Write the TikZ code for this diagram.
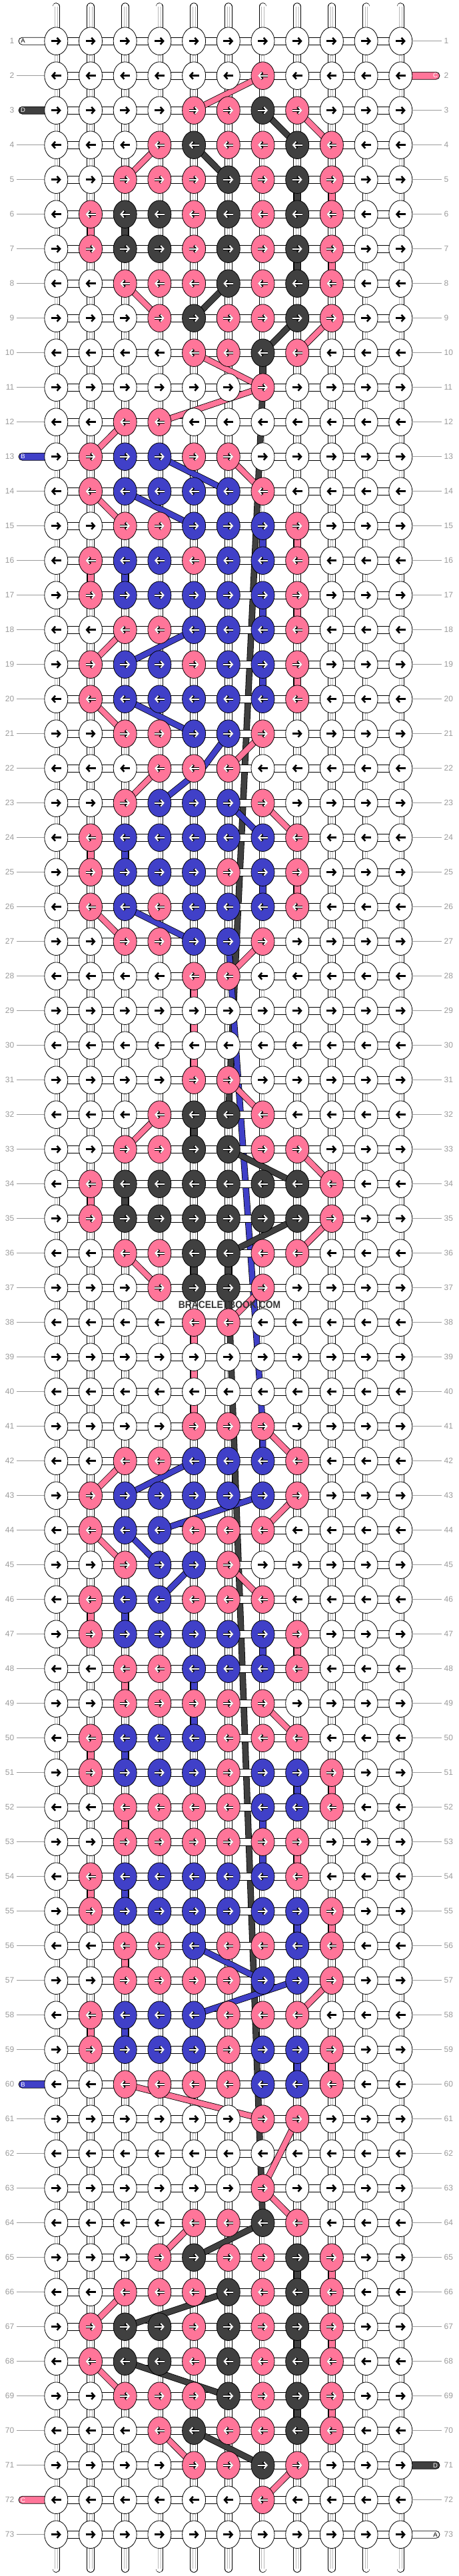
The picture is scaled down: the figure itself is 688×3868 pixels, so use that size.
\documentclass[tikz,border=0pt]{standalone}
\usepackage{fontspec}
\setmainfont{Liberation Sans}
\usetikzlibrary{arrows.meta,shapes.geometric}
\definecolor{cP}{RGB}{255,117,153}
\definecolor{cB}{RGB}{64,64,200}
\definecolor{cK}{RGB}{64,64,64}
\definecolor{lbl}{RGB}{155,155,155}
\definecolor{thrgray}{RGB}{185,185,185}
\pgfdeclarelayer{bgz}\pgfdeclarelayer{bga}\pgfdeclarelayer{bgb}\pgfdeclarelayer{bgc}\pgfdeclarelayer{bgd}
\pgfsetlayers{bgz,bga,bgb,bgc,bgd,main}
\newcommand\krow[2]{\foreach \c/\k in {#2}{\expandafter\xdef\csname kc-#1-\c\endcsname{c\k}}}
\begin{document}
\begin{tikzpicture}[x=1pt,y=-1pt,
  knotnode/.style={ellipse, draw=black, line width=0.8pt, minimum width=35pt, minimum height=41.6pt, inner sep=0pt},
  thr/.style={line width=0.8pt, draw=black, double=#1, double distance=8pt},
  vconn/.style={draw=black, line width=0.8pt},
  hconn/.style={draw=black, fill=white, line width=0.8pt},
  arw/.style={line width=2.6pt, black, -{Straight Barb[length=4.5pt,width=10pt]}},
  arwo/.style={line width=3.8pt, black, -{Straight Barb[length=4.5pt,width=10pt]}},
  arwi/.style={line width=1.9pt, white, -{Straight Barb[length=4.5pt,width=10pt]}},
  rowlbl/.style={text=lbl, font=\fontsize{12}{12}\selectfont, inner xsep=3.5pt, inner ysep=0pt},
  lblline/.style={draw=lbl, line width=0.7pt},
  edgethr/.style={draw=black, line width=0.8pt, rounded corners=5.5pt},
  edgeltr/.style={font=\fontsize{9.5}{10}\selectfont, inner sep=0pt},
]
\useasboundingbox (0,0) rectangle (688,3868);
\begin{pgfonlayer}{bgz}
\fill[white] (0,0) rectangle (688,3868);
\end{pgfonlayer}
% ---- knot colours ----
\krow{2}{7/P}
\krow{3}{5/P,6/P,7/K,8/P}
\krow{4}{4/P,5/K,6/P,7/P,8/K,9/P}
\krow{5}{3/P,4/P,5/P,6/K,7/P,8/K,9/P}
\krow{6}{2/P,3/K,4/K,5/P,6/K,7/P,8/K,9/P}
\krow{7}{2/P,3/K,4/K,5/P,6/K,7/P,8/K,9/P}
\krow{8}{3/P,4/P,5/P,6/K,7/P,8/K,9/P}
\krow{9}{4/P,5/K,6/P,7/P,8/K,9/P}
\krow{10}{5/P,6/P,7/K,8/P}
\krow{11}{7/P}
\krow{12}{3/P,4/P}
\krow{13}{2/P,3/B,4/B,5/P,6/P}
\krow{14}{2/P,3/B,4/B,5/B,6/B,7/P}
\krow{15}{3/P,4/P,5/B,6/B,7/B,8/P}
\krow{16}{2/P,3/B,4/B,5/P,6/B,7/B,8/P}
\krow{17}{2/P,3/B,4/B,5/B,6/B,7/B,8/P}
\krow{18}{3/P,4/P,5/B,6/B,7/B,8/P}
\krow{19}{2/P,3/B,4/B,5/P,6/B,7/B,8/P}
\krow{20}{2/P,3/B,4/B,5/B,6/B,7/B,8/P}
\krow{21}{3/P,4/P,5/B,6/B,7/P}
\krow{22}{4/P,5/P,6/P}
\krow{23}{3/P,4/B,5/B,6/B,7/P}
\krow{24}{2/P,3/B,4/B,5/B,6/B,7/B,8/P}
\krow{25}{2/P,3/B,4/B,5/B,6/P,7/B,8/P}
\krow{26}{2/P,3/B,4/P,5/B,6/B,7/B,8/P}
\krow{27}{3/P,4/P,5/B,6/B,7/P}
\krow{28}{5/P,6/P}
\krow{31}{5/P,6/P}
\krow{32}{4/P,5/K,6/K,7/P}
\krow{33}{3/P,4/P,5/K,6/K,7/P,8/P}
\krow{34}{2/P,3/K,4/K,5/K,6/K,7/K,8/K,9/P}
\krow{35}{2/P,3/K,4/K,5/K,6/K,7/K,8/K,9/P}
\krow{36}{3/P,4/P,5/K,6/K,7/P,8/P}
\krow{37}{4/P,5/K,6/K,7/P}
\krow{38}{5/P,6/P}
\krow{41}{5/P,6/P,7/P}
\krow{42}{3/P,4/P,5/B,6/B,7/B,8/P}
\krow{43}{2/P,3/B,4/B,5/B,6/B,7/B,8/P}
\krow{44}{2/P,3/B,4/B,5/P,6/P,7/P}
\krow{45}{3/P,4/B,5/B,6/P}
\krow{46}{2/P,3/B,4/B,5/P,6/P,7/P}
\krow{47}{2/P,3/B,4/B,5/B,6/B,7/B,8/P}
\krow{48}{3/P,4/P,5/B,6/B,7/B,8/P}
\krow{49}{3/P,4/P,5/P,6/P,7/P}
\krow{50}{2/P,3/B,4/B,5/B,6/P,7/P,8/P}
\krow{51}{2/P,3/B,4/B,5/B,6/P,7/B,8/B,9/P}
\krow{52}{3/P,4/P,5/P,6/P,7/B,8/B,9/P}
\krow{53}{3/P,4/P,5/P,6/P,7/P,8/P}
\krow{54}{2/P,3/B,4/B,5/B,6/B,7/B,8/P}
\krow{55}{2/P,3/B,4/B,5/B,6/B,7/B,8/B,9/P}
\krow{56}{3/P,4/P,5/B,6/P,7/P,8/B,9/P}
\krow{57}{3/P,4/P,5/P,6/P,7/B,8/B,9/P}
\krow{58}{2/P,3/B,4/B,5/B,6/P,7/P,8/P}
\krow{59}{2/P,3/B,4/B,5/B,6/P,7/B,8/B,9/P}
\krow{60}{3/P,4/P,5/P,6/P,7/B,8/B,9/P}
\krow{61}{7/P,8/P}
\krow{63}{7/P}
\krow{64}{5/P,6/P,7/K,8/P}
\krow{65}{4/P,5/K,6/P,7/P,8/K,9/P}
\krow{66}{3/P,4/P,5/P,6/K,7/P,8/K,9/P}
\krow{67}{2/P,3/K,4/K,5/P,6/K,7/P,8/K,9/P}
\krow{68}{2/P,3/K,4/K,5/P,6/K,7/P,8/K,9/P}
\krow{69}{3/P,4/P,5/P,6/K,7/P,8/K,9/P}
\krow{70}{4/P,5/K,6/P,7/P,8/K,9/P}
\krow{71}{5/P,6/P,7/K,8/P}
\krow{72}{7/P}
\foreach \r in {1,3,13,60,72}{\expandafter\gdef\csname hasL-\r\endcsname{}}
\foreach \r in {2,71,73}{\expandafter\gdef\csname hasR-\r\endcsname{}}
% ---- knots ----
\foreach \r in {1,...,73}{
  \pgfmathsetmacro\yy{61.7+(\r-1)*52}
  \ifodd\r\relax\def\ad{1}\else\def\ad{-1}\fi
  \foreach \c in {1,...,11}{
    \pgfmathsetmacro\xx{84.3+(\c-1)*51.7}
    \pgfmathsetmacro\xa{\xx-7.5*\ad}
    \pgfmathsetmacro\xb{\xx+7.5*\ad}
    \ifcsname kc-\r-\c\endcsname
      \edef\kcol{\csname kc-\r-\c\endcsname}
      \node[knotnode, fill=\kcol] (k-\r-\c) at (\xx,\yy) {};
      \draw[arwo] (\xa,\yy) -- (\xb,\yy);
      \draw[arwi] (\xa,\yy) -- (\xb,\yy);
    \else
      \node[knotnode, fill=white] (k-\r-\c) at (\xx,\yy) {};
      \draw[arw] (\xa,\yy) -- (\xb,\yy);
    \fi
  }
}
% ---- vertical threads (columns) ----
\begin{pgfonlayer}{bga}
\foreach \c in {1,...,11}{
  \pgfmathsetmacro\xx{84.3+(\c-1)*51.7}
  \coordinate (top-\c) at (\xx,10);
  \coordinate (bot-\c) at (\xx,3857);
  \draw[black, line width=11.6pt, line cap=round] (top-\c) -- (bot-\c);
  \draw[white, line width=10pt, line cap=round] (top-\c) -- (bot-\c);
  \draw[thrgray, line width=0.6pt] ([xshift=-1.8pt]top-\c) -- ([xshift=-1.8pt]bot-\c);
  \draw[thrgray, line width=0.6pt] ([xshift=1.8pt]top-\c) -- ([xshift=1.8pt]bot-\c);
}
\end{pgfonlayer}
% ---- coloured vertical segments and long threads ----
\begin{pgfonlayer}{bgb}
\foreach \r/\c/\k in {5/8/K,5/9/P,6/2/P,6/3/K,7/8/K,7/9/P,10/7/K,15/7/B,15/8/P,16/2/P,16/3/B,17/7/B,17/8/P,19/7/B,19/8/P,24/2/P,24/3/B,25/7/B,25/8/P,28/5/P,29/5/P,30/5/P,32/5/K,34/2/P,34/3/K,36/5/K,36/6/K,38/5/P,39/5/P,40/5/P,46/2/P,46/3/B,47/7/B,47/8/P,48/3/P,48/5/B,49/5/B,50/2/P,50/3/B,51/8/B,51/9/P,52/3/P,52/7/B,53/7/B,53/8/P,54/2/P,54/3/B,55/8/B,55/9/P,56/3/P,58/2/P,58/3/B,59/8/B,59/9/P,65/8/K,65/9/P,67/8/K,67/9/P,69/8/K,69/9/P}{
  \pgfmathtruncatemacro\rn{\r+1}
  \draw[vconn, fill=c\k] ([xshift=-5pt]k-\r-\c.center) rectangle ([xshift=5pt]k-\rn-\c.center);
}
\draw[thr=cK] (k-11-7.center) -- (k-32-6.center);
\draw[thr=cB] (k-27-6.center) -- (k-41-7.center) -- (k-42-7.center);
\draw[thr=cK] (k-37-6.center) -- (k-64-7.center);
\end{pgfonlayer}
% ---- horizontal connectors ----
\begin{pgfonlayer}{bgc}
\foreach \r in {1,...,73}{
  \draw[hconn] ([yshift=5.5pt]k-\r-1.center) rectangle ([yshift=-5.5pt]k-\r-11.center);
}
\end{pgfonlayer}
% ---- diagonal coloured threads ----
\begin{pgfonlayer}{bgd}
\foreach \a/\b/\k in {2-7/3-5/P,3-7/4-8/K,3-8/4-9/P,4-4/5-3/P,4-5/5-6/K,8-3/9-4/P,8-6/9-5/K,9-8/10-7/K,9-9/10-8/P,10-5/11-7/P,11-7/12-4/P,12-3/13-2/P,13-4/14-6/B,13-6/14-7/P,14-2/15-3/P,14-3/15-5/B,18-3/19-2/P,18-5/19-3/B,20-2/21-3/P,20-3/21-5/B,21-7/22-6/P,22-4/23-3/P,23-6/24-7/B,23-7/24-8/P,26-2/27-3/P,26-3/27-5/B,27-7/28-6/P,31-6/32-7/P,32-4/33-3/P,33-6/34-8/K,33-8/34-9/P,35-8/36-6/K,35-9/36-8/P,36-3/37-4/P,37-7/38-6/P,41-7/42-8/P,42-3/43-2/P,42-5/43-3/B,43-7/44-4/B,43-8/44-7/P,44-2/45-3/P,44-3/45-4/B,45-5/46-4/B,45-6/46-7/P,49-7/50-8/P,56-5/57-7/B,57-8/58-5/B,57-9/58-8/P,60-3/61-7/P,61-8/63-7/P,63-7/64-8/P,64-5/65-4/P,64-7/65-5/K,66-3/67-2/P,66-6/67-3/K,68-2/69-3/P,68-3/69-6/K,70-4/71-5/P,70-5/71-7/K,71-8/72-7/P}{
  \draw[thr=c\k] (k-\a.center) -- (k-\b.center);
}
\draw[thr=cB] (k-21-6.center) -- ([xshift=13pt]k-22-5.center) -- (k-23-4.center);
\end{pgfonlayer}
% ---- edge threads ----
\foreach \r/\fc/\tc/\lt in {1/white/black/A,3/cK/white/D,13/cB/white/B,60/cB/white/B,72/cP/white/C}{
  \pgfmathsetmacro\yy{61.7+(\r-1)*52}
  \coordinate (le-\r) at (28,\yy);
  \begin{pgfonlayer}{bgc}
  \draw[edgethr, fill=\fc] ([yshift=5.5pt]le-\r) rectangle ([yshift=-5.5pt]k-\r-1.center);
  \end{pgfonlayer}
  \node[edgeltr, text=\tc] (lt-\r) at (34.5,\yy) {\lt};
}
\foreach \r/\fc/\tc/\lt in {2/cP/white/C,71/cK/white/D,73/white/black/A}{
  \pgfmathsetmacro\yy{61.7+(\r-1)*52}
  \coordinate (re-\r) at (660,\yy);
  \begin{pgfonlayer}{bgc}
  \draw[edgethr, fill=\fc] ([yshift=5.5pt]k-\r-11.center) rectangle ([yshift=-5.5pt]re-\r);
  \end{pgfonlayer}
  \node[edgeltr, text=\tc] (rt-\r) at (653.5,\yy) {\lt};
}
% ---- row labels ----
\foreach \r in {1,...,73}{
  \pgfmathsetmacro\yy{61.7+(\r-1)*52}
  \node[rowlbl, anchor=east] (ll-\r) at (25,\yy) {\r};
  \node[rowlbl, anchor=west] (rl-\r) at (663,\yy) {\r};
  \ifcsname hasL-\r\endcsname\else\draw[lblline] (ll-\r.east) -- (k-\r-1.west);\fi
  \ifcsname hasR-\r\endcsname\else\draw[lblline] (k-\r-11.east) -- (rl-\r.west);\fi
}
% ---- watermark ----
\node[font=\bfseries\fontsize{15.4}{16}\selectfont, text=cK!85!black, xscale=0.9] (wm) at (344.5,1959.5) {BRACELETBOOK.COM};
\end{tikzpicture}
\end{document}
